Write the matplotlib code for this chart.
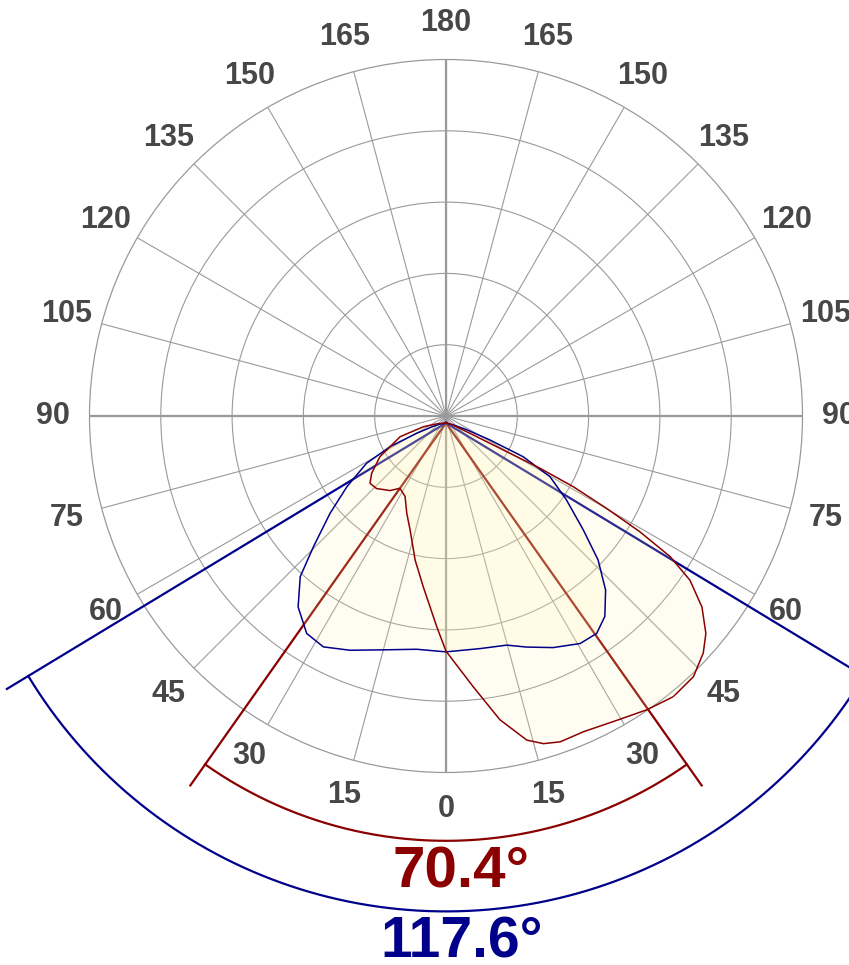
import numpy as np
import matplotlib
matplotlib.use('Agg')
import matplotlib.pyplot as plt

plt.rcParams['font.family'] = ['Liberation Sans', 'DejaVu Sans']

# angles in degrees from nadir (negative = left), intensity in ring units
blue_ang = [-90, -80, -75, -70.6, -67.1, -63.1, -57.3, -52.1, -47, -43.5, -38.8, -33.5, -28.7, -22.9,
            -15.4, -7.4, 0, 8.6, 15.3, 19.8, 25.5, 31.3, 35.6, 39.4, 43.7, 48.0, 52.1, 57.5, 62.7,
            66.4, 68.9, 72, 76, 90]
blue_val = [0, 0.08, 0.2, 0.44, 0.85, 1.25, 1.65, 2.06, 2.54, 2.97, 3.31, 3.54, 3.58, 3.46,
            3.30, 3.20, 3.21, 3.20, 3.23, 3.34, 3.49, 3.62, 3.63, 3.51, 3.24, 2.87, 2.44, 2.0, 1.64,
            1.18, 0.66, 0.3, 0.1, 0]

red_ang = [-90, -85, -80.7, -73.4, -63, -55.9, -51.6, -46.7, -39.6, -35.2, -29.1, -23.5, -18.6, -12.7,
           -7.9, -2.6, 0, 5.9, 10.3, 14.3, 16.9, 19.7, 24.0, 29.9, 35.0, 39.7, 44.3, 48.2, 51.0, 54.3,
           57.2, 59.2, 60.7, 62.0, 63.4, 64.3, 64.7, 66.3, 72, 80, 90]
red_val = [0, 0.12, 0.32, 0.67, 1.04, 1.26, 1.36, 1.34, 1.23, 1.12, 1.18, 1.38, 1.58, 1.97,
           2.32, 2.86, 3.2, 3.72, 4.23, 4.59, 4.70, 4.75, 4.74, 4.81, 4.91, 4.99, 4.97, 4.84, 4.69, 4.42,
           4.07, 3.66, 3.12, 2.55, 2.0, 1.46, 0.94, 0.42, 0.12, 0.03, 0]

red_beam = 70.4
blue_beam = 117.6

tick_deg = list(range(0, 360, 15))
tick_labels = [str(d if d <= 180 else 360 - d) for d in tick_deg]

RED = '#8b0000'
BLUE = '#00008b'
GRID = '#9a9a9a'
TXT = '#474747'
FILL = '#fff5af'

fig = plt.figure(figsize=(8.49, 9.65), dpi=100)

W, H = 849, 965
R = 356.5
cx, cy = 446, 416
dy = 7


def box(cy_):
    return [(cx - R) / W, (H - cy_ - R) / H, 2 * R / W, 2 * R / H]


# grid
ax = fig.add_axes(box(cy), projection='polar')
ax.set_theta_zero_location('S')
ax.set_ylim(0, 5)
ax.set_yticks([1, 2, 3, 4])
ax.set_yticklabels([])
ax.set_xticks(np.radians(tick_deg))
ax.set_xticklabels([])
ax.grid(True, color=GRID, lw=0.8)
ax.spines['polar'].set_color(GRID)
ax.spines['polar'].set_linewidth(0.9)
for d in [0, 90, 180, 270]:
    ax.plot([np.radians(d)] * 2, [0, 5], color=GRID, lw=1.6, zorder=1)
for d, lab in zip(tick_deg, tick_labels):
    ax.text(np.radians(d), 5.51, lab, ha='center', va='center', fontsize=22,
            fontweight='bold', color=TXT, clip_on=False)

# curves, shifted slightly below the grid centre
ov = fig.add_axes(box(cy + dy), projection='polar')
ov.set_theta_zero_location('S')
ov.set_ylim(0, 5)
ov.axis('off')
ov.patch.set_alpha(0)

for half, rline, rarc, col in [(red_beam / 2, 6.22, 5.86, RED), (blue_beam / 2, 7.2, 6.85, BLUE)]:
    for s in (-1, 1):
        ov.plot([0, np.radians(s * half)], [0, rline], color=col, lw=1.6, clip_on=False, zorder=1)
    t = np.radians(np.linspace(-half, half, 200))
    ov.plot(t, np.full_like(t, rarc), color=col, lw=1.6, clip_on=False, zorder=1)

for ang, val, col in [(blue_ang, blue_val, BLUE), (red_ang, red_val, RED)]:
    th = np.radians(ang)
    ov.fill(th, val, color=FILL, alpha=0.17, lw=0, zorder=2)
    ov.plot(th, val, color=col, lw=1.1, zorder=3)

fig.text(461 / W, 1 - 888 / H, f'{red_beam}°', ha='center', va='baseline', fontsize=42,
         fontweight='bold', color=RED)
fig.text(462 / W, 1 - 958 / H, f'{blue_beam}°', ha='center', va='baseline', fontsize=41,
         fontweight='bold', color=BLUE)

fig.savefig('out.png', dpi=100)
